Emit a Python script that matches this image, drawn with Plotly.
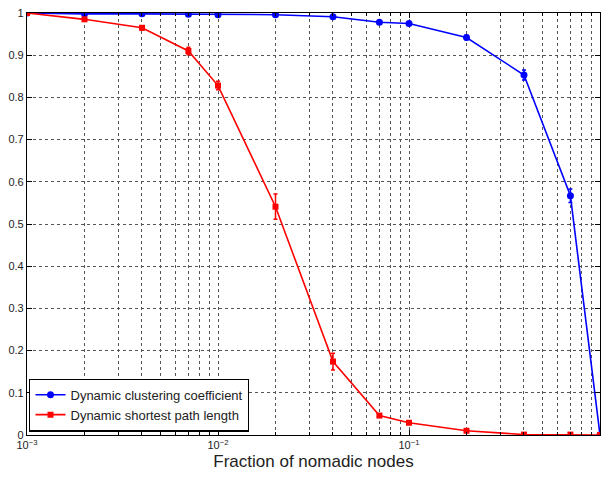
import plotly.graph_objects as go

fraction = [0.001, 0.002, 0.004, 0.007, 0.01, 0.02, 0.04, 0.07, 0.1, 0.2, 0.4, 0.7, 1.0]
clustering = [1.0, 0.998, 0.998, 0.997, 0.996, 0.996, 0.991, 0.978, 0.975, 0.942, 0.853, 0.567, 0.0]
clustering_err = [0.0, 0.002, 0.002, 0.002, 0.003, 0.003, 0.003, 0.004, 0.004, 0.005, 0.012, 0.016, 0.003]
shortest = [1.0, 0.985, 0.965, 0.91, 0.828, 0.541, 0.174, 0.046, 0.029, 0.01, 0.001, 0.001, 0.0]
shortest_err = [0.0, 0.004, 0.005, 0.009, 0.01, 0.03, 0.02, 0.004, 0.003, 0.002, 0.001, 0.001, 0.0]
x_tickvals = [0.001, 0.01, 0.1, 1]
x_ticktext = ["10<sup>−3</sup>", "10<sup>−2</sup>", "10<sup>−1</sup>", "10<sup>0</sup>"]
y_tickvals = [0, 0.1, 0.2, 0.3, 0.4, 0.5, 0.6, 0.7, 0.8, 0.9, 1]
y_ticktext = ["0", "0.1", "0.2", "0.3", "0.4", "0.5", "0.6", "0.7", "0.8", "0.9", "1"]
minor_vals = [m * d for d in (0.001, 0.01, 0.1) for m in range(2, 10)]

fig = go.Figure()
fig.add_trace(go.Scatter(
    x=fraction, y=clustering, mode="lines+markers",
    name="Dynamic clustering coefficient",
    line=dict(color="#0000ff", width=1.6),
    marker=dict(symbol="circle", size=7, color="#0000ff"),
    error_y=dict(type="data", array=clustering_err, color="#0000ff", thickness=1.5, width=2),
))
fig.add_trace(go.Scatter(
    x=fraction, y=shortest, mode="lines+markers",
    name="Dynamic shortest path length",
    line=dict(color="#ff0000", width=1.6),
    marker=dict(symbol="square", size=6, color="#ff0000"),
    error_y=dict(type="data", array=shortest_err, color="#ff0000", thickness=1.5, width=2),
))

grid = dict(showgrid=True, gridcolor="#555555", griddash="dot", gridwidth=1)
fig.update_xaxes(
    type="log", range=[-3, 0], tickvals=x_tickvals, ticktext=x_ticktext,
    ticks="inside", ticklen=5, tickcolor="black", mirror="allticks",
    showline=True, linecolor="black", linewidth=1.2,
    minor=dict(tickmode="array", tickvals=minor_vals, ticks="inside", ticklen=3,
               tickcolor="black", showgrid=True,
               gridcolor="#555555", griddash="dot", gridwidth=1),
    tickfont=dict(family="Liberation Sans, Arial", size=11, color="#222222"),
    title=dict(text="Fraction of nomadic nodes", standoff=4,
               font=dict(family="Liberation Sans, Arial", size=17, color="#222222")),
    zeroline=False, **grid,
)
fig.update_yaxes(
    range=[0, 1], tickvals=y_tickvals, ticktext=y_ticktext,
    ticks="inside", ticklen=5, tickcolor="black", mirror="allticks",
    showline=True, linecolor="black", linewidth=1.2,
    tickfont=dict(family="Liberation Sans, Arial", size=11, color="#222222"),
    zeroline=False, **grid,
)
fig.update_layout(
    width=606, height=480,
    margin=dict(l=27, r=6, t=13, b=45),
    paper_bgcolor="white", plot_bgcolor="white",
    showlegend=True,
    legend=dict(x=0.004, y=0.008, xanchor="left", yanchor="bottom",
                bgcolor="white", bordercolor="black", borderwidth=1.2,
                font=dict(family="Liberation Sans, Arial", size=13, color="#222222"),
                tracegroupgap=0, itemwidth=30),
)
fig.write_html("out.html")
